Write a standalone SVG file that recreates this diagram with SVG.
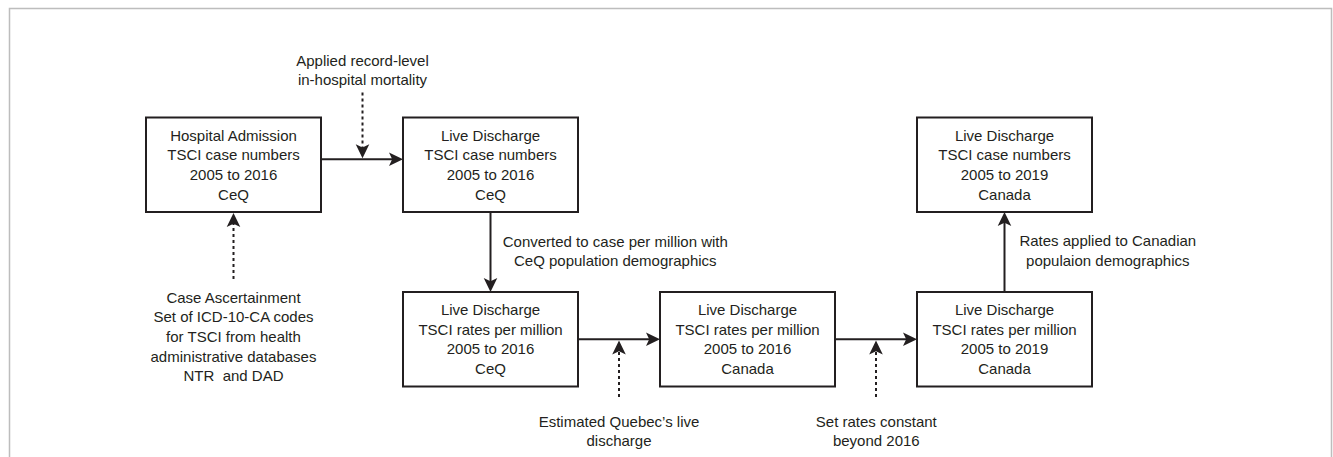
<svg xmlns="http://www.w3.org/2000/svg" width="1333" height="457" viewBox="0 0 1333 457">
<style>
  .box { fill: #ffffff; stroke: #231f20; stroke-width: 2; }
  .t { font-family: "Liberation Sans", Arial, sans-serif; font-size: 15px; fill: #231f20; text-anchor: middle; }
  .c { fill: none; stroke: #231f20; stroke-width: 2; }
  .d { fill: none; stroke: #231f20; stroke-width: 2; stroke-dasharray: 3 3; }
  .frame { fill: none; stroke: #bdbdbd; stroke-width: 1.5; }
</style>
<defs>
  <marker id="ah" viewBox="-6 -8 18 16" refX="0" refY="0" markerWidth="18" markerHeight="16" markerUnits="userSpaceOnUse" orient="auto">
    <path d="M10,0 L-4,-6.8 L-0.8,0 L-4,6.8 Z" fill="#231f20"/>
  </marker>
</defs>
<rect width="1333" height="457" fill="#ffffff"/>
<path class="frame" d="M9.5,457 L9.5,8.5 L1331.5,8.5 L1331.5,457"/>

<g id="connectors">
  <line class="c" x1="321" y1="159.3" x2="393" y2="159.3" marker-end="url(#ah)"/>
  <line class="d" x1="362.5" y1="92.5" x2="362.5" y2="148.3" marker-end="url(#ah)"/>
  <line class="d" x1="233.5" y1="279" x2="233.5" y2="223" marker-end="url(#ah)"/>
  <line class="c" x1="490.5" y1="212" x2="490.5" y2="282" marker-end="url(#ah)"/>
  <line class="c" x1="578" y1="339.3" x2="650" y2="339.3" marker-end="url(#ah)"/>
  <line class="d" x1="619" y1="397" x2="619" y2="350.5" marker-end="url(#ah)"/>
  <line class="c" x1="835" y1="339.3" x2="907" y2="339.3" marker-end="url(#ah)"/>
  <line class="d" x1="876" y1="397" x2="876" y2="350.5" marker-end="url(#ah)"/>
  <line class="c" x1="1004.5" y1="292" x2="1004.5" y2="222" marker-end="url(#ah)"/>
</g>

<g id="node-hospital-admission">
  <rect class="box" x="146" y="117.5" width="175" height="94.5"/>
  <text class="t" x="233.5" y="140.5">Hospital Admission</text>
  <text class="t" x="233.5" y="160.2">TSCI case numbers</text>
  <text class="t" x="233.5" y="179.9">2005 to 2016</text>
  <text class="t" x="233.5" y="199.6">CeQ</text>
</g>

<g id="node-live-discharge-case-ceq">
  <rect class="box" x="403" y="117.5" width="175" height="94.5"/>
  <text class="t" x="490.5" y="140.5">Live Discharge</text>
  <text class="t" x="490.5" y="160.2">TSCI case numbers</text>
  <text class="t" x="490.5" y="179.9">2005 to 2016</text>
  <text class="t" x="490.5" y="199.6">CeQ</text>
</g>

<g id="node-live-discharge-case-canada">
  <rect class="box" x="917" y="117.5" width="175" height="94.5"/>
  <text class="t" x="1004.5" y="140.5">Live Discharge</text>
  <text class="t" x="1004.5" y="160.2">TSCI case numbers</text>
  <text class="t" x="1004.5" y="179.9">2005 to 2019</text>
  <text class="t" x="1004.5" y="199.6">Canada</text>
</g>

<g id="node-rates-ceq">
  <rect class="box" x="403" y="292" width="175" height="94.5"/>
  <text class="t" x="490.5" y="315">Live Discharge</text>
  <text class="t" x="490.5" y="334.7">TSCI rates per million</text>
  <text class="t" x="490.5" y="354.4">2005 to 2016</text>
  <text class="t" x="490.5" y="374.1">CeQ</text>
</g>

<g id="node-rates-canada-2016">
  <rect class="box" x="660" y="292" width="175" height="94.5"/>
  <text class="t" x="747.5" y="315">Live Discharge</text>
  <text class="t" x="747.5" y="334.7">TSCI rates per million</text>
  <text class="t" x="747.5" y="354.4">2005 to 2016</text>
  <text class="t" x="747.5" y="374.1">Canada</text>
</g>

<g id="node-rates-canada-2019">
  <rect class="box" x="917" y="292" width="175" height="94.5"/>
  <text class="t" x="1004.5" y="315">Live Discharge</text>
  <text class="t" x="1004.5" y="334.7">TSCI rates per million</text>
  <text class="t" x="1004.5" y="354.4">2005 to 2019</text>
  <text class="t" x="1004.5" y="374.1">Canada</text>
</g>

<g id="labels">
  <text class="t" x="362.5" y="65.5">Applied record-level</text>
  <text class="t" x="362.5" y="85">in-hospital mortality</text>

  <text class="t" x="233.5" y="302.5">Case Ascertainment</text>
  <text class="t" x="233.5" y="322.2">Set of ICD-10-CA codes</text>
  <text class="t" x="233.5" y="341.9">for TSCI from health</text>
  <text class="t" x="233.5" y="361.6">administrative databases</text>
  <text class="t" x="233.5" y="381.3" xml:space="preserve">NTR  and DAD</text>

  <text class="t" x="615.3" y="246.5">Converted to case per million with</text>
  <text class="t" x="615.3" y="266.2">CeQ population demographics</text>

  <text class="t" x="619" y="426.5">Estimated Quebec’s live</text>
  <text class="t" x="619" y="445.5">discharge</text>

  <text class="t" x="876.3" y="426.5">Set rates constant</text>
  <text class="t" x="876.3" y="445.5">beyond 2016</text>

  <text class="t" x="1107.8" y="246">Rates applied to Canadian</text>
  <text class="t" x="1107.8" y="265.7">populaion demographics</text>
</g>
</svg>
